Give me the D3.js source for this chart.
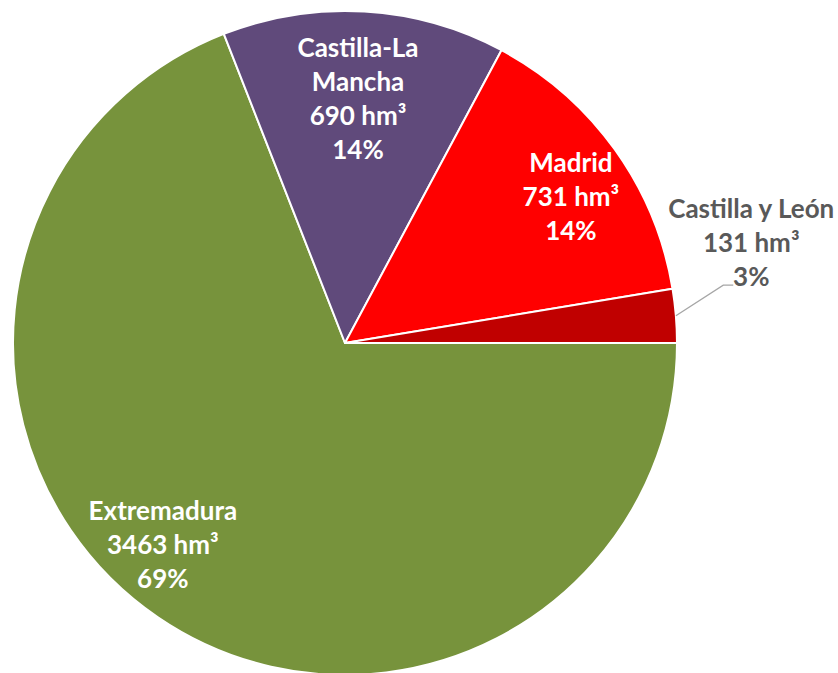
<!DOCTYPE html>
<html>
<head>
<meta charset="utf-8">
<script src="https://cdn.jsdelivr.net/npm/d3@7"></script>
<style>
	html, body { margin: 0; padding: 0; background: #fff; }
	svg { display: block; }
	.lbl { font-family: Lato, "Open Sans", sans-serif; font-weight: bold; font-size: 26px; }
</style>
</head>
<body>
<svg id="chart" width="838" height="673"></svg>
<script>
// data
var regions = ["Extremadura", "Castilla-La Mancha", "Madrid", "Castilla y León"];
var volumes = [3463, 690, 731, 131];
var percents = ["69%", "14%", "14%", "3%"];
var units = "hm³";
var colors = ["#77933C", "#604A7B", "#FF0000", "#C00000"];
// label lines (wrapping as in the original)
var nameLines = [["Extremadura"], ["Castilla-La", "Mancha"], ["Madrid"], ["Castilla y León"]];

var width = 838,
	height = 673,
	cx = 345,
	cy = 343,
	radius = 332,
	lineH = 34;

// [radius fraction, angle shift in degrees, outside?]
var labelLayout = [
	[0.82, 7.7, false],
	[0.735, -0.3, false],
	[0.81, 2.8, false],
	[1.26, -9.1, true]
];

var svg = d3.select('#chart');
var g = svg.append('g')
	.attr('transform', 'translate(' + cx + ',' + cy + ')');

var data = regions.map(function(r, i){
	return {name: r, value: volumes[i], pct: percents[i], color: colors[i], lines: nameLines[i], layout: labelLayout[i]};
});

var pie = d3.pie()
	.sort(null)
	.value(function(d){ return d.value; })
	.startAngle(Math.PI / 2)
	.endAngle(Math.PI / 2 + 2 * Math.PI);

var arc = d3.arc()
	.innerRadius(0)
	.outerRadius(radius);

var arcs = pie(data);

g.selectAll('path.slice')
	.data(arcs)
	.enter().append('path')
	.attr('class', 'slice')
	.attr('d', arc)
	.attr('fill', function(d){ return d.data.color; })
	.attr('stroke', '#fff')
	.attr('stroke-width', 2)
	.attr('stroke-linejoin', 'round');

function labelPoint(d){
	var a = (d.startAngle + d.endAngle) / 2 + d.data.layout[1] * Math.PI / 180;
	var r = radius * d.data.layout[0];
	return [r * Math.sin(a), -r * Math.cos(a)];
}

var labels = g.selectAll('text.lbl')
	.data(arcs)
	.enter().append('text')
	.attr('class', 'lbl')
	.attr('text-anchor', 'middle')
	.attr('fill', function(d){ return d.data.layout[2] ? '#595959' : '#fff'; })
	.attr('transform', function(d){
		var p = labelPoint(d);
		return 'translate(' + p[0] + ',' + p[1] + ')';
	});

labels.each(function(d){
	var rows = d.data.lines.concat([d.data.value + ' ' + units, d.data.pct]);
	var t = d3.select(this);
	var top = -(rows.length - 1) / 2 * lineH;
	rows.forEach(function(row, i){
		t.append('tspan')
			.attr('x', 0)
			.attr('y', top + i * lineH)
			.attr('dy', '0.35em')
			.text(row);
	});
});

// leader lines for labels placed outside the pie
arcs.filter(function(d){ return d.data.layout[2]; }).forEach(function(d){
	var a = (d.startAngle + d.endAngle) / 2;
	var p0 = [radius * Math.sin(a), -radius * Math.cos(a)];
	var lp = labelPoint(d);
	var lastY = lp[1] + lineH + 8;
	var p2 = [lp[0] - 18, lastY];
	var p1 = [p2[0] - 10, lastY];
	g.append('polyline')
		.attr('points', [p0, p1, p2].map(function(p){ return p.join(','); }).join(' '))
		.attr('fill', 'none')
		.attr('stroke', '#A6A6A6')
		.attr('stroke-width', 1.3);
});
</script>
</body>
</html>
